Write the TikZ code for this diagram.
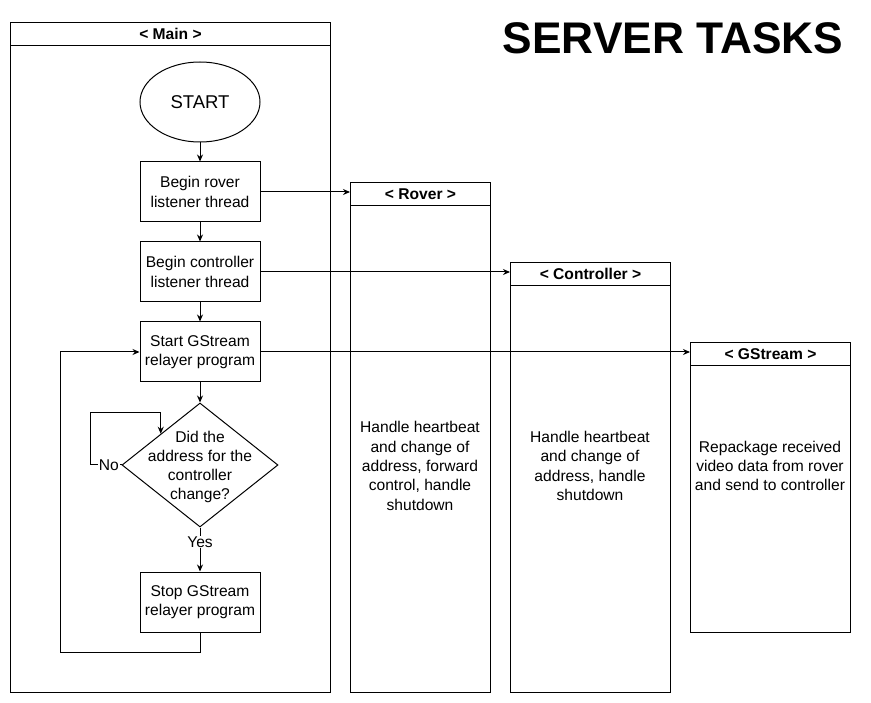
\documentclass[tikz,border=0pt]{standalone}
\usepackage{fontspec}
\setmainfont{Liberation Sans}
\usetikzlibrary{shapes.geometric,arrows.meta,calc}
\begin{document}
\begin{tikzpicture}[x=1pt,y=-1pt,
  every node/.style={font=\fontsize{15.6}{19.3}\selectfont},
  pool/.style={draw,line width=1pt,anchor=north west,inner sep=0pt},
  poolhead/.style={draw,line width=1pt,anchor=north west,inner sep=0pt,minimum height=23pt,font=\fontsize{15.6}{19}\selectfont\bfseries},
  box/.style={draw,line width=1pt,minimum width=120pt,minimum height=60pt,inner sep=0pt,align=center},
  arr/.style={line width=1pt,-{Stealth[length=7pt,width=6pt]}},
  conn/.style={line width=1pt},
  lbl/.style={fill=white,inner sep=1pt},
  txt/.style={align=center,inner sep=0pt}
]
\useasboundingbox (0,0) rectangle (871,703);
% title
\node[anchor=base,font=\fontsize{44.3}{50}\selectfont\bfseries] (title) at (673,54) {SERVER TASKS};
% pools
\node[pool,minimum width=320pt,minimum height=670pt] (mainpool) at (10,22) {};
\node[poolhead,minimum width=320pt] (mainhead) at (10,22) {< Main >};
\node[pool,minimum width=140pt,minimum height=510pt] (rovpool) at (350,182) {};
\node[poolhead,minimum width=140pt] (rovhead) at (350,182) {< Rover >};
\node[pool,minimum width=160pt,minimum height=430pt] (conpool) at (510,262) {};
\node[poolhead,minimum width=160pt] (conhead) at (510,262) {< Controller >};
\node[pool,minimum width=160pt,minimum height=290pt] (gspool) at (690,342) {};
\node[poolhead,minimum width=160pt] (gshead) at (690,342) {< GStream >};
% pool texts
\node[txt] (rovtxt) at (420,466) {Handle heartbeat\\and change of\\address, forward\\control, handle\\shutdown};
\node[txt] (contxt) at (590,466) {Handle heartbeat\\and change of\\address, handle\\shutdown};
\node[txt] (gstxt) at (770,466) {Repackage received\\video data from rover\\and send to controller};
% main flow
\node[draw,line width=1pt,ellipse,minimum width=120pt,minimum height=80pt,inner sep=0pt,font=\fontsize{18.5}{22}\selectfont] (start) at (200,102) {START};
\node[box] (rov) at (200,192) {Begin rover\\listener thread};
\node[box] (con) at (200,272) {Begin controller\\listener thread};
\node[box] (gs) at (200,352) {Start GStream\\relayer program};
\node[draw,line width=1pt,diamond,minimum width=156pt,minimum height=124pt,inner sep=0pt] (dec) at (200,465) {};
\node[txt] (dectxt) at (200,467) {Did the\\address for the\\controller\\change?};
\node[box] (stop) at (200,602) {Stop GStream\\relayer program};
% connectors
\draw[arr] (start.south) -- (rov.north);
\draw[arr] (rov.south) -- (con.north);
\draw[arr] (con.south) -- (gs.north);
\draw[arr] (gs.south) -- (dec.north);
\draw[arr] (dec.south) -- node[lbl,pos=0.33] {Yes} (stop.north);
\coordinate (dne) at ($(dec.north)!0.5!(dec.west)$);
\coordinate (ltop) at (90,413);
\draw[arr] (dec.west) -- node[lbl,pos=0.4] {No} (ltop |- dec.west) -- (ltop) -- (ltop -| dne) -- (dne);
\coordinate (lb) at (60,652);
\draw[arr] (stop.south) -- (stop.south |- lb) -- (lb) -- (lb |- gs.west) -- (gs.west);
\draw[arr] (rov.east) -- (rov.east -| rovpool.west);
\draw[arr] (con.east) -- (con.east -| conpool.west);
\draw[arr] (gs.east) -- (gs.east -| gspool.west);
\end{tikzpicture}
\end{document}
